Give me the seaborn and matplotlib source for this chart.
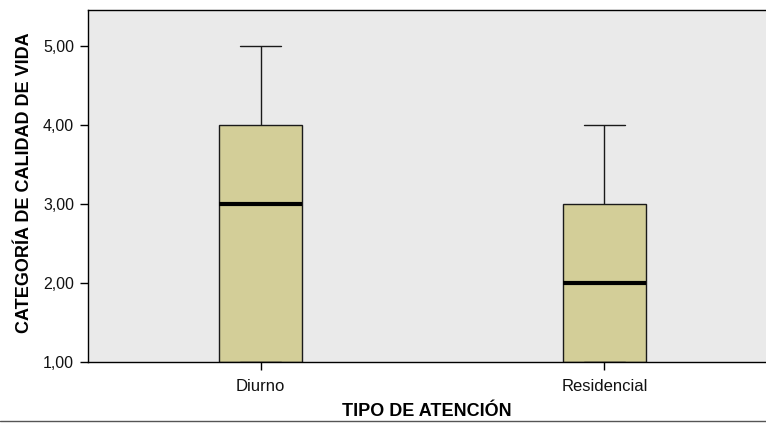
import matplotlib
matplotlib.use("Agg")
import matplotlib.pyplot as plt
import matplotlib.lines as mlines
import numpy as np
import pandas as pd
import seaborn as sns

# Raw scores per group (reproduce the five-number summary)
# Diurno: min 1, Q1 1, median 3, Q3 4, max 5
# Residencial: min 1, Q1 1, median 2, Q3 3, max 4
diurno = [1, 1, 1, 3, 3, 4, 4, 5]
residencial = [1, 1, 1, 2, 2, 3, 3, 4]
groups = ["Diurno", "Residencial"]
y_ticks = [1, 2, 3, 4, 5]
y_ticklabels = ["1,00", "2,00", "3,00", "4,00", "5,00"]

df = pd.DataFrame({
    "tipo": ["Diurno"] * len(diurno) + ["Residencial"] * len(residencial),
    "calidad": diurno + residencial,
})

sns.set_theme(style="white")
plt.rcParams["font.family"] = ["Liberation Sans", "DejaVu Sans"]

fig = plt.figure(figsize=(7.66, 4.24), dpi=100)
ax = fig.add_axes([88 / 766, 1 - 362 / 424, 1 - 88 / 766, (362 - 10) / 424])
ax.set_facecolor("#EAEAEA")

sns.boxplot(data=df, x="tipo", y="calidad", order=groups, ax=ax,
            width=0.241, color="#D3CE98", saturation=1, linecolor="#1a1a1a",
            linewidth=1.0, whis=1.5, showfliers=False,
            medianprops={"color": "black", "linewidth": 3.0})

ax.set_xlim(-0.5015, 1.4695)
ax.set_ylim(1.0, 5.456)
ax.set_yticks(y_ticks)
ax.set_yticklabels(y_ticklabels)

for side in ["left", "bottom", "top"]:
    ax.spines[side].set_color("black")
    ax.spines[side].set_linewidth(1.0)
ax.spines["right"].set_visible(False)
ax.tick_params(axis="both", direction="out", length=6, width=1, color="black",
               labelcolor="#111111", left=True, bottom=True)
ax.tick_params(axis="y", labelsize=11.5, pad=4)
ax.tick_params(axis="x", labelsize=12, pad=6)

ax.set_xlabel("TIPO DE ATENCIÓN", fontsize=13, fontweight="bold", labelpad=7,
              color="black")
ax.set_ylabel("CATEGORÍA DE CALIDAD DE VIDA", fontsize=13, fontweight="bold",
              color="black")
ax.yaxis.set_label_coords(-55 / 678, 0.51)

# thin gray rule at the bottom of the image
fig.add_artist(mlines.Line2D([0, 1], [1 - 421 / 424] * 2, color="#555555",
                             linewidth=1.0, transform=fig.transFigure))

fig.savefig("out.png", dpi=100)
